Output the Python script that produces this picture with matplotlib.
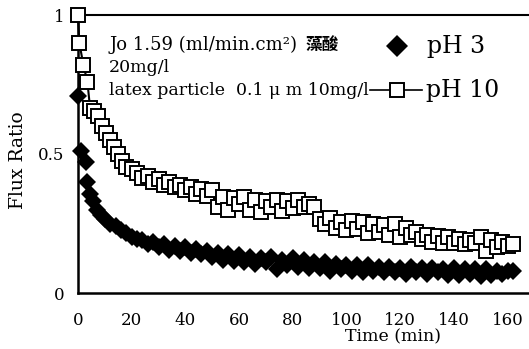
import matplotlib
matplotlib.use("Agg")
import matplotlib.pyplot as plt
from matplotlib.lines import Line2D

# ---- data ----
t_ph10 = [0, 0.5, 2, 3.5, 4.5, 6, 7.5, 9, 10.5, 12, 13.5, 15, 16.5, 18,
          20, 22, 24, 26, 28, 30, 32, 34, 36, 38, 40, 42, 44, 46, 48, 50,
          52, 54, 56, 58, 60, 62, 64, 66, 68, 70, 72, 74, 76, 78, 80, 82,
          84, 86, 88, 90, 92, 94, 96, 98, 100, 102, 104, 106, 108, 110,
          112, 114, 116, 118, 120, 122, 124, 126, 128, 130, 132, 134, 136,
          138, 140, 142, 144, 146, 148, 150, 152, 154, 156, 158, 160, 162]
v_ph10 = [1.00, 0.90, 0.82, 0.76, 0.665, 0.655, 0.635, 0.60, 0.575, 0.55,
          0.525, 0.50, 0.475, 0.455,
          0.445, 0.43, 0.415, 0.42, 0.40, 0.41, 0.39, 0.40, 0.38, 0.39,
          0.37, 0.38, 0.355, 0.375, 0.35, 0.37,
          0.31, 0.345, 0.30, 0.34, 0.32, 0.345, 0.30, 0.335, 0.29, 0.33,
          0.31, 0.335, 0.295, 0.33, 0.305, 0.335,
          0.31, 0.32, 0.31, 0.265, 0.25, 0.27, 0.235, 0.255, 0.225, 0.26,
          0.23, 0.255, 0.215, 0.25,
          0.22, 0.245, 0.21, 0.25, 0.20, 0.235, 0.21, 0.22, 0.195, 0.21,
          0.185, 0.205, 0.18,
          0.20, 0.18, 0.195, 0.175, 0.19, 0.18, 0.20, 0.15, 0.19, 0.165,
          0.185, 0.17, 0.175]

t_ph3 = [0, 1, 3, 3.5, 4.5, 5.5, 7, 8.5, 10, 12, 14, 16, 18,
         20, 22, 24, 26, 28, 30, 32, 34, 36, 38, 40, 42, 44, 46, 48, 50,
         52, 54, 56, 58, 60, 62, 64, 66, 68, 70, 72, 74, 76, 78, 80, 82,
         84, 86, 88, 90, 92, 94, 96, 98, 100, 102, 104, 106, 108, 110,
         112, 114, 116, 118, 120, 122, 124, 126, 128, 130, 132, 134, 136,
         138, 140, 142, 144, 146, 148, 150, 152, 154, 156, 158, 160, 162]
v_ph3 = [0.71, 0.51, 0.47, 0.40, 0.355, 0.33, 0.30, 0.28, 0.265, 0.25,
         0.24, 0.225, 0.215,
         0.20, 0.195, 0.19, 0.175, 0.185, 0.165, 0.175, 0.155, 0.17, 0.15,
         0.165, 0.145, 0.16, 0.14, 0.15, 0.13,
         0.145, 0.12, 0.14, 0.115, 0.135, 0.11, 0.13, 0.105, 0.125, 0.11,
         0.13, 0.085, 0.12, 0.10, 0.125, 0.095,
         0.12, 0.09, 0.11, 0.09, 0.11, 0.08, 0.105, 0.085, 0.10, 0.08,
         0.10, 0.075, 0.10, 0.08,
         0.095, 0.075, 0.095, 0.075, 0.09, 0.07, 0.095, 0.075, 0.09, 0.07,
         0.09, 0.075, 0.085,
         0.065, 0.09, 0.065, 0.085, 0.07, 0.085, 0.06, 0.085, 0.065, 0.08,
         0.07, 0.08, 0.08]

x_ticks = [0, 20, 40, 60, 80, 100, 120, 140, 160]
y_ticks = [0, 0.5, 1]
y_ticklabels = ["0", "0.5", "1"]

W, H = 529, 349
plt.rcParams['font.family'] = ['DejaVu Serif', 'Noto Sans CJK TC']

fig = plt.figure(figsize=(W / 100, H / 100), dpi=100)
ax = fig.add_axes([78 / W, 1 - 293 / H, 1 - 78 / W, (293 - 15) / H])


def fx(px):
    return px / W


def fy(py):
    return 1 - py / H


ax.plot(t_ph3, v_ph3, linestyle='none', marker='D', markersize=9.5,
        color='black', markeredgewidth=0, zorder=2, clip_on=False)
ax.plot(t_ph10, v_ph10, linestyle='-', color='black', linewidth=1.5,
        marker='s', markersize=10, markerfacecolor='white',
        markeredgecolor='black', markeredgewidth=1.4, zorder=3, clip_on=False)

ax.set_xlim(0, 168)
ax.set_ylim(0, 1)
ax.set_xticks(x_ticks)
ax.set_xticklabels([str(v) for v in x_ticks])
ax.set_yticks(y_ticks)
ax.set_yticklabels(y_ticklabels)
ax.tick_params(axis='both', length=0, labelsize=12)
ax.tick_params(axis='x', pad=14)
ax.tick_params(axis='y', pad=10)

for s in ['left', 'bottom']:
    ax.spines[s].set_linewidth(1.8)
ax.spines['top'].set_linewidth(1.5)
ax.spines['right'].set_visible(False)

fig.text(fx(18), fy(160), "Flux Ratio", rotation=90, ha='center',
         va='center', fontsize=13.5)
fig.text(fx(393), fy(337), "Time (min)", ha='center', va='center',
         fontsize=12.5)

fig.text(fx(109), fy(50), "Jo 1.59 (ml/min.cm²)", ha='left', va='baseline',
         fontsize=13)
fig.text(fx(306), fy(50), "藻酸", ha='left', va='baseline', fontsize=12,
         family=['Noto Sans CJK TC'], fontweight='bold')
fig.text(fx(109), fy(72), "20mg/l", ha='left', va='baseline', fontsize=12.5)
fig.text(fx(109), fy(95), "latex particle  0.1 μ m 10mg/l", ha='left',
         va='baseline', fontsize=12.5)

# legend
fig.add_artist(Line2D([fx(397)], [fy(46)], marker='D', markersize=11,
                      color='black', markeredgewidth=0, linestyle='none'))
fig.text(fx(427), fy(53), "pH 3", ha='left', va='baseline', fontsize=17)
fig.add_artist(Line2D([fx(370), fx(422)], [fy(90), fy(90)], color='black',
                      linewidth=1.2))
fig.add_artist(Line2D([fx(397)], [fy(90)], marker='s', markersize=10,
                      markerfacecolor='white', markeredgecolor='black',
                      markeredgewidth=1.4, linestyle='none'))
fig.text(fx(426), fy(97), "pH 10", ha='left', va='baseline', fontsize=17)

fig.savefig("out.png", dpi=100)
